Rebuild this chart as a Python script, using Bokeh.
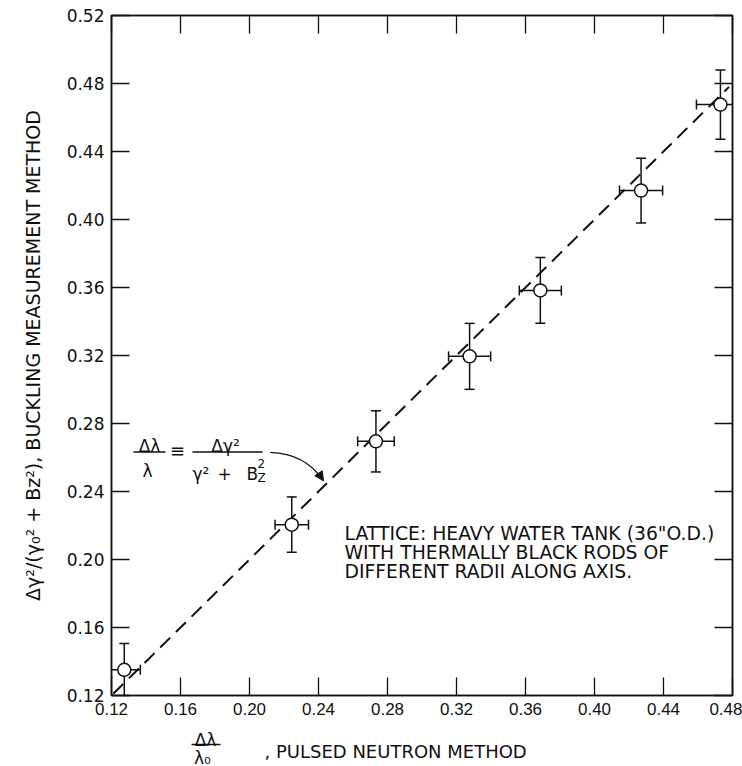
from bokeh.plotting import figure
from bokeh.layouts import column
from bokeh.models import (Range1d, FixedTicker, LinearAxis, Label, Whisker, TeeHead,
                          ColumnDataSource, Arrow, NormalHead)
from bokeh.core.properties import value
from bokeh.embed import file_html
from bokeh.resources import INLINE

# ---- data ----
x_pulsed = [0.1274, 0.2245, 0.2733, 0.3276, 0.3686, 0.4270, 0.4730]
y_buckling = [0.1351, 0.2205, 0.2695, 0.3195, 0.3583, 0.4170, 0.4676]
x_err = [0.0093, 0.0097, 0.0106, 0.0122, 0.0122, 0.0125, 0.0139]
y_err = [0.0155, 0.0163, 0.0180, 0.0194, 0.0194, 0.0190, 0.0204]
fit_x = [0.121, 0.478]
fit_y = [0.121, 0.478]
x_ticks = [0.12, 0.16, 0.20, 0.24, 0.28, 0.32, 0.36, 0.40, 0.44, 0.48]
y_ticks = [0.12, 0.16, 0.20, 0.24, 0.28, 0.32, 0.36, 0.40, 0.44, 0.48, 0.52]
x_tick_labels = ["0.12", "0.16", "0.20", "0.24", "0.28", "0.32", "0.36", "0.40", "0.44", "0.48"]
y_tick_labels = ["0.12", "0.16", "0.20", "0.24", "0.28", "0.32", "0.36", "0.40", "0.44", "0.48", "0.52"]
note_lines = ['LATTICE: HEAVY WATER TANK (36"O.D.)',
              "WITH THERMALLY BLACK RODS OF",
              "DIFFERENT RADII ALONG AXIS."]
y_title = "Δγ²/(γ₀² + Bz²), BUCKLING MEASUREMENT METHOD"
x_title_rest = ", PULSED NEUTRON METHOD"

FONT = "DejaVu Sans"
INK = "#111111"

p = figure(width=742, height=725,
           x_range=Range1d(0.12, 0.48), y_range=Range1d(0.12, 0.52),
           output_backend="svg", toolbar_location=None,
           min_border_left=111, min_border_right=10,
           min_border_top=15, min_border_bottom=30)
p.grid.visible = False
p.outline_line_color = INK
p.outline_line_width = 1.5
p.background_fill_color = "white"
p.border_fill_color = "white"

xt = FixedTicker(ticks=x_ticks)
yt = FixedTicker(ticks=y_ticks)

def style_axis(ax, ticker):
    ax.ticker = ticker
    ax.major_tick_in = 18
    ax.major_tick_out = 0
    ax.major_tick_line_width = 1.3
    ax.major_tick_line_color = INK
    ax.minor_tick_line_color = None
    ax.axis_line_width = 1.5
    ax.axis_line_color = INK

xa = p.xaxis[0]
style_axis(xa, xt)
xa.major_label_overrides = {t: s for t, s in zip(x_ticks, x_tick_labels)}
xa.major_label_text_font = "Liberation Sans"
xa.major_label_text_font_size = "17px"
xa.major_label_text_color = INK
xa.major_label_standoff = 7

ya = p.yaxis[0]
style_axis(ya, yt)
ya.major_label_overrides = {t: s for t, s in zip(y_ticks, y_tick_labels)}
ya.major_label_text_font = FONT
ya.major_label_text_font_size = "17px"
ya.major_label_text_color = INK
ya.major_label_standoff = 7
ya.axis_label = y_title
ya.axis_label_text_font = FONT
ya.axis_label_text_font_size = "19px"
ya.axis_label_text_font_style = "normal"
ya.axis_label_text_color = INK
ya.axis_label_standoff = 20

for side, tk, ticks in (("right", yt, y_ticks), ("above", xt, x_ticks)):
    ax = LinearAxis()
    style_axis(ax, tk)
    ax.major_label_overrides = {t: "" for t in ticks}
    ax.major_label_text_font_size = "8px"
    ax.major_label_standoff = 0
    p.add_layout(ax, side)

# dashed line y = x
p.line(fit_x, fit_y, line_dash="14 8", line_width=2, line_color=INK)

src = ColumnDataSource(dict(
    x=x_pulsed, y=y_buckling,
    xl=[a - e for a, e in zip(x_pulsed, x_err)], xu=[a + e for a, e in zip(x_pulsed, x_err)],
    yl=[a - e for a, e in zip(y_buckling, y_err)], yu=[a + e for a, e in zip(y_buckling, y_err)],
))
wv = Whisker(source=src, base="x", lower="yl", upper="yu", dimension="height",
             line_color=INK, line_width=1.5,
             lower_head=TeeHead(size=10, line_color=INK, line_width=1.5),
             upper_head=TeeHead(size=10, line_color=INK, line_width=1.5))
wh = Whisker(source=src, base="y", lower="xl", upper="xu", dimension="width",
             line_color=INK, line_width=1.5,
             lower_head=TeeHead(size=10, line_color=INK, line_width=1.5),
             upper_head=TeeHead(size=10, line_color=INK, line_width=1.5))
p.add_layout(wv)
p.add_layout(wh)
p.scatter("x", "y", source=src, size=13, fill_color="white", line_color=INK, line_width=1.5)

# note text
for i, txt in enumerate(note_lines):
    p.add_layout(Label(x=233, y=162 - 19 * i, x_units="screen", y_units="screen", text=txt,
                       text_font=FONT, text_font_size="18.8px", text_color=INK,
                       text_baseline="alphabetic", text_align="left"))

def lab(x, y, txt, size="17px", align="center", baseline="alphabetic"):
    p.add_layout(Label(x=x, y=y, x_units="screen", y_units="screen", text=txt,
                       text_font=FONT, text_font_size=size, text_color=INK,
                       text_align=align, text_baseline=baseline))

def bar(x0, x1, y):
    p.add_layout(Arrow(x_start=x0, y_start=y, x_end=x1, y_end=y,
                       start_units="screen", end_units="screen", end=None,
                       line_color=INK, line_width=1.3))

# formula: Δλ/λ ≡ Δγ²/(γ² + B_Z²)
lab(38, 250, "Δλ")
bar(22, 54, 243.5)
lab(36, 225, "λ")
lab(66, 245, "≡", size="18px", baseline="middle")
lab(114, 250, "Δγ²")
bar(81, 151, 243.5)
lab(81, 222, "γ²", align="left")
lab(113, 222, "+", align="center")
lab(135, 222, "B", align="left")
lab(146, 232, "2", size="12px", align="left")
lab(146, 218, "Z", size="12px", align="left")

# curved leader with arrow
curve_x0, curve_y0 = 0.2120, 0.2630
ctrl_x, ctrl_y = 0.2323, 0.2624
tip_x, tip_y = 0.2429, 0.2463
p.quadratic(x0=[curve_x0], y0=[curve_y0], x1=[tip_x], y1=[tip_y], cx=[ctrl_x], cy=[ctrl_y],
            line_color=INK, line_width=1.2)
p.add_layout(Arrow(x_start=0.2408, y_start=0.2495, x_end=tip_x, y_end=tip_y,
                   line_color=INK, line_width=1.2,
                   end=NormalHead(size=9, fill_color=INK, line_color=INK)))

# ---- x-axis title strip: Δλ/λ₀ , PULSED NEUTRON METHOD ----
# strip frame aligned with the main frame; its x range is in page pixels (111..732)
t = figure(width=742, height=41, x_range=Range1d(111, 732), y_range=Range1d(0, 41),
           output_backend="svg", toolbar_location=None, title=None,
           x_axis_location=None, y_axis_location=None,
           min_border_left=111, min_border_right=10,
           min_border_top=0, min_border_bottom=0)
t.grid.visible = False
t.outline_line_color = None
t.background_fill_color = "white"
t.border_fill_color = "white"
t.text(x=[205], y=[27], text=["Δλ"], text_font=value(FONT), text_font_size="17px",
       text_align="center", text_baseline="alphabetic", text_color=INK)
t.segment(x0=[191], y0=[22], x1=[220], y1=[22], line_color=INK, line_width=1.3)
t.text(x=[202], y=[9], text=["λ₀"], text_font=value(FONT), text_font_size="17px",
       text_align="center", text_baseline="alphabetic", text_color=INK)
t.text(x=[264], y=[15], text=[x_title_rest], text_font=value(FONT), text_font_size="18px",
       text_align="left", text_baseline="alphabetic", text_color=INK)

layout = column(p, t, spacing=0)
open("out.html", "w").write(file_html(layout, INLINE))
